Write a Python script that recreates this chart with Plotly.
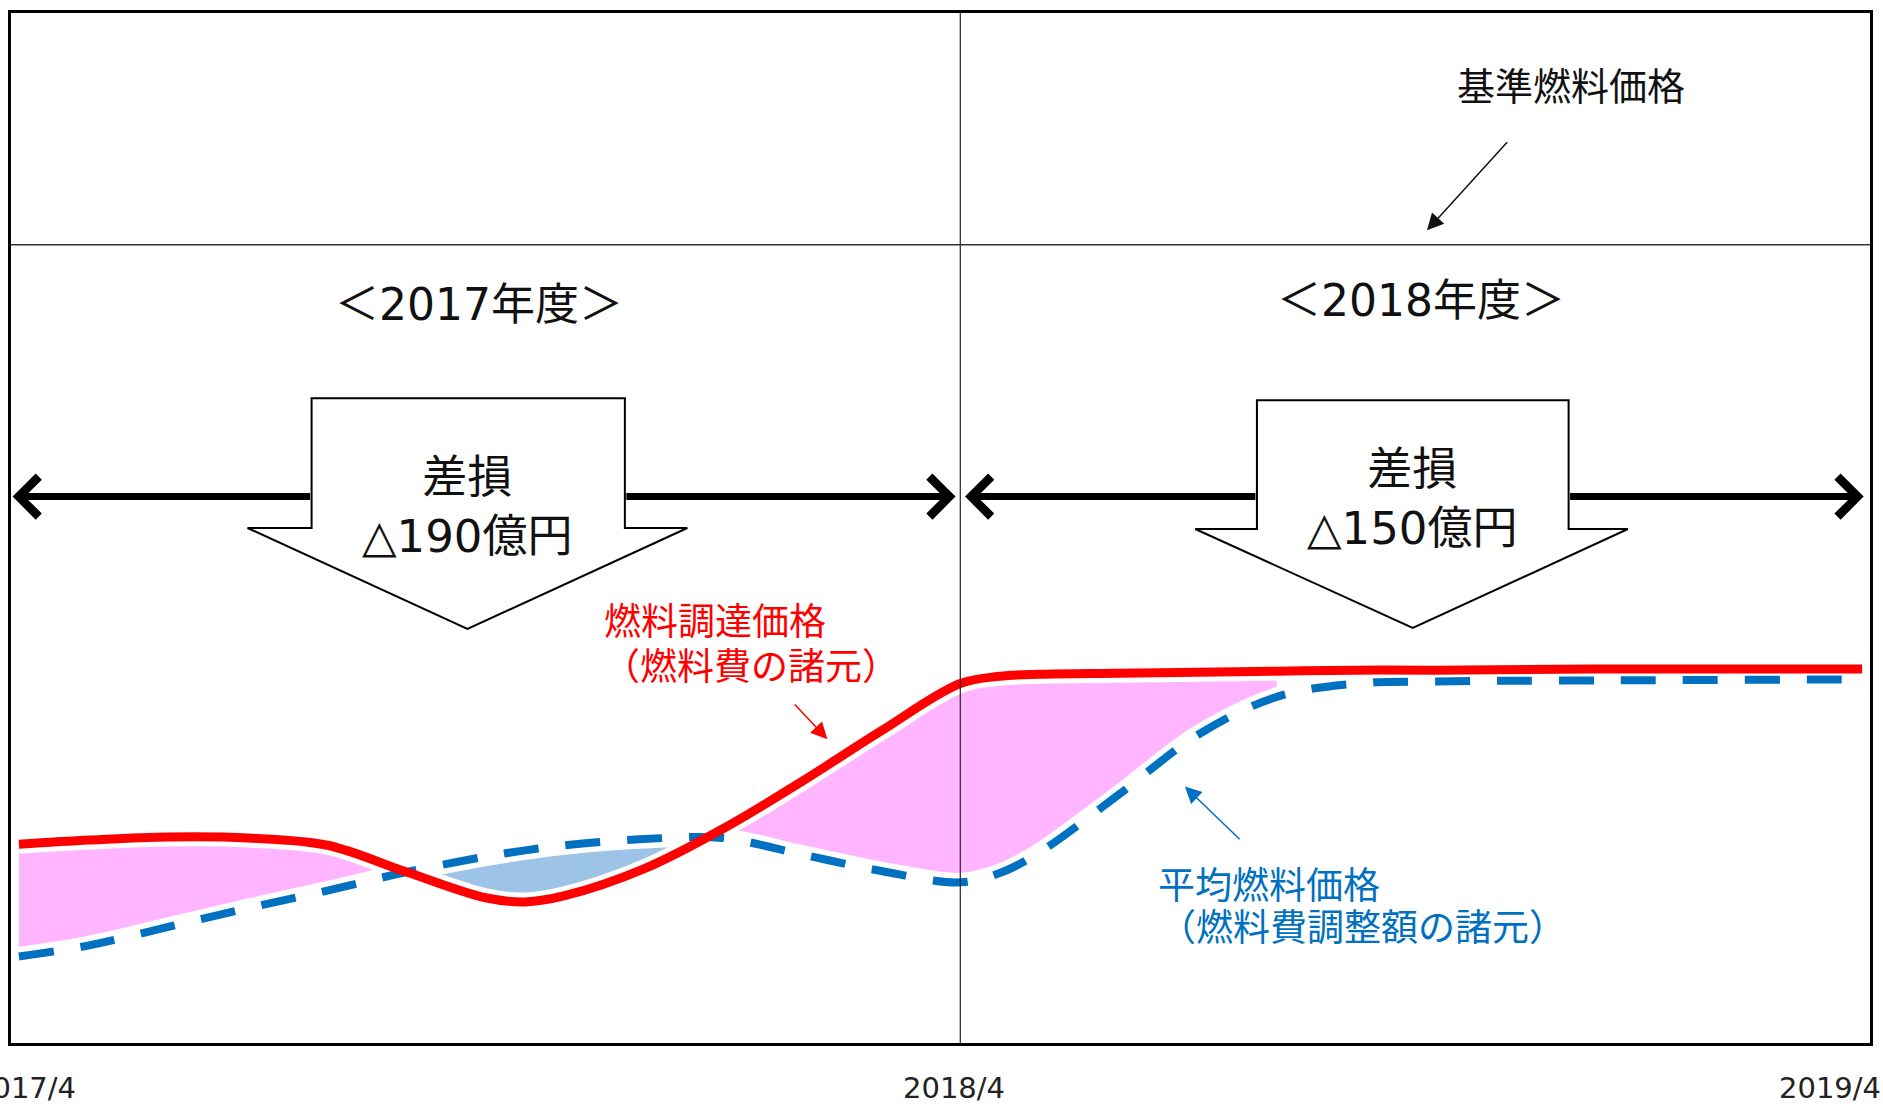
import plotly.graph_objects as go

# ---------------- data ----------------
months = [0.1, 1, 2, 3, 4, 5, 6, 6.5, 7, 8, 9, 10, 11, 12, 12.5, 13, 14, 15, 16, 17, 18, 20, 23.4]
procurement_price = [19.3, 19.7, 20.0, 19.9, 19.2, 16.6, 14.1, 13.7, 14.3, 16.9, 20.8, 25.4,
                     30.3, 34.9, 35.6, 35.8, 35.9, 36.0, 36.1, 36.2, 36.2, 36.3, 36.3]
average_price = [8.4, 9.5, 11.3, 13.1, 14.8, 16.6, 18.1, 18.7, 19.2, 19.8, 19.9, 18.3,
                 16.7, 15.6, 16.5, 18.5, 24.1, 29.9, 33.6, 34.9, 35.1, 35.2, 35.3]
base_price = 77.5
fiscal_split = 12.0

tick_labels = ['2017/4', '2018/4', '2019/4']
tick_positions = [0.0, 12.0, 23.45]
fiscal_labels = ['＜2017年度＞', '＜2018年度＞']
loss_labels = ['差損<br>△190億円', '差損<br>△150億円']
red_label = ['燃料調達価格', '（燃料費の諸元）']
blue_label = ['平均燃料価格', '（燃料費調整額の諸元）']
base_label = '基準燃料価格'

# fill segments between the two series: (first index, last index, colour)
fill_segments = [(0, 5, '#FFB5FF'), (5, 10, '#9DC3E6'), (10, 18, '#FFB5FF')]

# ---------------- styles / layout geometry ----------------
RED = '#FF0000'
BLUE = '#0070C0'
W, H = 1883, 1104
FONT = 'DejaVu Sans, Noto Sans CJK JP, sans-serif'

fig = go.Figure()

# shaded gaps between the series
for i0, i1, col in fill_segments:
    xs = months[i0:i1 + 1]
    fig.add_trace(go.Scatter(x=xs, y=average_price[i0:i1 + 1], mode='lines',
                             line=dict(width=0, shape='spline', color=col),
                             hoverinfo='skip', showlegend=False))
    fig.add_trace(go.Scatter(x=xs, y=procurement_price[i0:i1 + 1], mode='lines',
                             line=dict(width=0, shape='spline', color=col),
                             fill='tonexty', fillcolor=col,
                             hoverinfo='skip', showlegend=False))

# white halos around lines
for ys in (average_price, procurement_price):
    fig.add_trace(go.Scatter(x=months, y=ys, mode='lines',
                             line=dict(width=19, shape='spline', color='white'),
                             hoverinfo='skip', showlegend=False))

fig.add_trace(go.Scatter(x=months, y=average_price, mode='lines', name='平均燃料価格',
                         line=dict(width=8, shape='spline', color=BLUE, dash='35px,27px'),
                         showlegend=False))
fig.add_trace(go.Scatter(x=months, y=procurement_price, mode='lines', name='燃料調達価格',
                         line=dict(width=9, shape='spline', color=RED),
                         showlegend=False))

shapes = [
    dict(type='line', xref='x', yref='y', x0=fiscal_split, x1=fiscal_split, y0=0, y1=100,
         line=dict(color='#222222', width=1.2), layer='above'),
    dict(type='line', xref='x', yref='y', x0=0, x1=23.5, y0=base_price, y1=base_price,
         line=dict(color='#333333', width=1.5), layer='above'),
]

# block down-arrows (one per fiscal year)
blocks = [
    dict(rect=(3.80, 7.76), top=62.6, wing_y=50.0, wings=(2.99, 8.55), tip=(5.77, 40.2)),
    dict(rect=(15.75, 19.69), top=62.4, wing_y=49.9, wings=(14.97, 20.44), tip=(17.72, 40.3)),
]
for b in blocks:
    l, r = b['rect']
    wl, wr = b['wings']
    tx, ty = b['tip']
    path = (f"M{l},{b['top']} L{r},{b['top']} L{r},{b['wing_y']} L{wr},{b['wing_y']} "
            f"L{tx},{ty} L{wl},{b['wing_y']} L{l},{b['wing_y']} Z")
    shapes.append(dict(type='path', xref='x', yref='y', path=path, fillcolor='white',
                       line=dict(color='black', width=2), layer='above'))

annotations = []

# period double-arrows, split around the block arrows
arrow_y = 53.05
period_arrows = [(3.80, 0.02), (7.76, 11.94), (15.75, 12.06), (19.69, 23.42)]
for tail, head in period_arrows:
    annotations.append(dict(x=head, y=arrow_y, ax=tail, ay=arrow_y, xref='x', yref='y',
                            axref='x', ayref='y', text='', showarrow=True,
                            arrowhead=4, arrowsize=1.1, arrowwidth=7, arrowcolor='black'))

# fiscal year labels
for lab, (x, y) in zip(fiscal_labels, [(5.92, 71.7), (17.82, 72.1)]):
    annotations.append(dict(x=x, y=y, xref='x', yref='y', text=lab, showarrow=False,
                            font=dict(size=44, color='#111111', family=FONT)))

# loss labels inside block arrows
for lab, (x, y) in zip(loss_labels, [(5.77, 52.0), (17.72, 52.8)]):
    annotations.append(dict(x=x, y=y, xref='x', yref='y', text=lab, showarrow=False,
                            font=dict(size=45, color='#111111', family=FONT)))

# base price label and pointer
annotations.append(dict(x=19.72, y=92.8, xref='x', yref='y', text=base_label, showarrow=False,
                        font=dict(size=38, color='#111111', family=FONT)))
annotations.append(dict(x=17.90, y=78.9, ax=18.93, ay=87.6, xref='x', yref='y', axref='x', ayref='y',
                        text='', showarrow=True, arrowhead=2, arrowsize=2.2, arrowwidth=1.5,
                        arrowcolor='#111111'))

# red series label and pointer
for lab, (x, y) in zip(red_label, [(8.90, 40.8), (9.36, 36.5)]):
    annotations.append(dict(x=x, y=y, xref='x', yref='y', text=lab, showarrow=False,
                            font=dict(size=37, color=RED, family=FONT)))
annotations.append(dict(x=10.32, y=29.5, ax=9.89, ay=33.0, xref='x', yref='y', axref='x', ayref='y',
                        text='', showarrow=True, arrowhead=2, arrowsize=2.2, arrowwidth=1.5,
                        arrowcolor=RED))

# blue series label and pointer
for lab, (x, y) in zip(blue_label, [(15.90, 15.2), (17.09, 11.1)]):
    annotations.append(dict(x=x, y=y, xref='x', yref='y', text=lab, showarrow=False,
                            font=dict(size=37, color=BLUE, family=FONT)))
annotations.append(dict(x=14.84, y=24.9, ax=15.55, ay=19.65, xref='x', yref='y', axref='x', ayref='y',
                        text='', showarrow=True, arrowhead=2, arrowsize=2.2, arrowwidth=1.5,
                        arrowcolor=BLUE))

# x tick labels
for lab, x, sh in zip(tick_labels, tick_positions, [14, -6, -36]):
    annotations.append(dict(x=x, y=0, xref='x', yref='paper', text=lab, showarrow=False,
                            yanchor='middle', yshift=-45, xshift=sh,
                            font=dict(size=29, color='#222222', family=FONT)))

fig.update_layout(
    width=W, height=H,
    margin=dict(l=11, r=11, t=10, b=61),
    paper_bgcolor='white', plot_bgcolor='white',
    font=dict(family=FONT),
    shapes=shapes, annotations=annotations,
    showlegend=False,
)
fig.update_xaxes(range=[0, 23.5], showgrid=False, zeroline=False, showticklabels=False,
                 ticks='', showline=True, linecolor='black', linewidth=3, mirror=True,
                 fixedrange=True)
fig.update_yaxes(range=[0, 100], showgrid=False, zeroline=False, showticklabels=False,
                 ticks='', showline=True, linecolor='black', linewidth=3, mirror=True,
                 fixedrange=True)

fig.write_html('out.html', config={'displayModeBar': False},
               post_script="document.body.style.margin='0px';document.body.style.overflow='hidden';")
